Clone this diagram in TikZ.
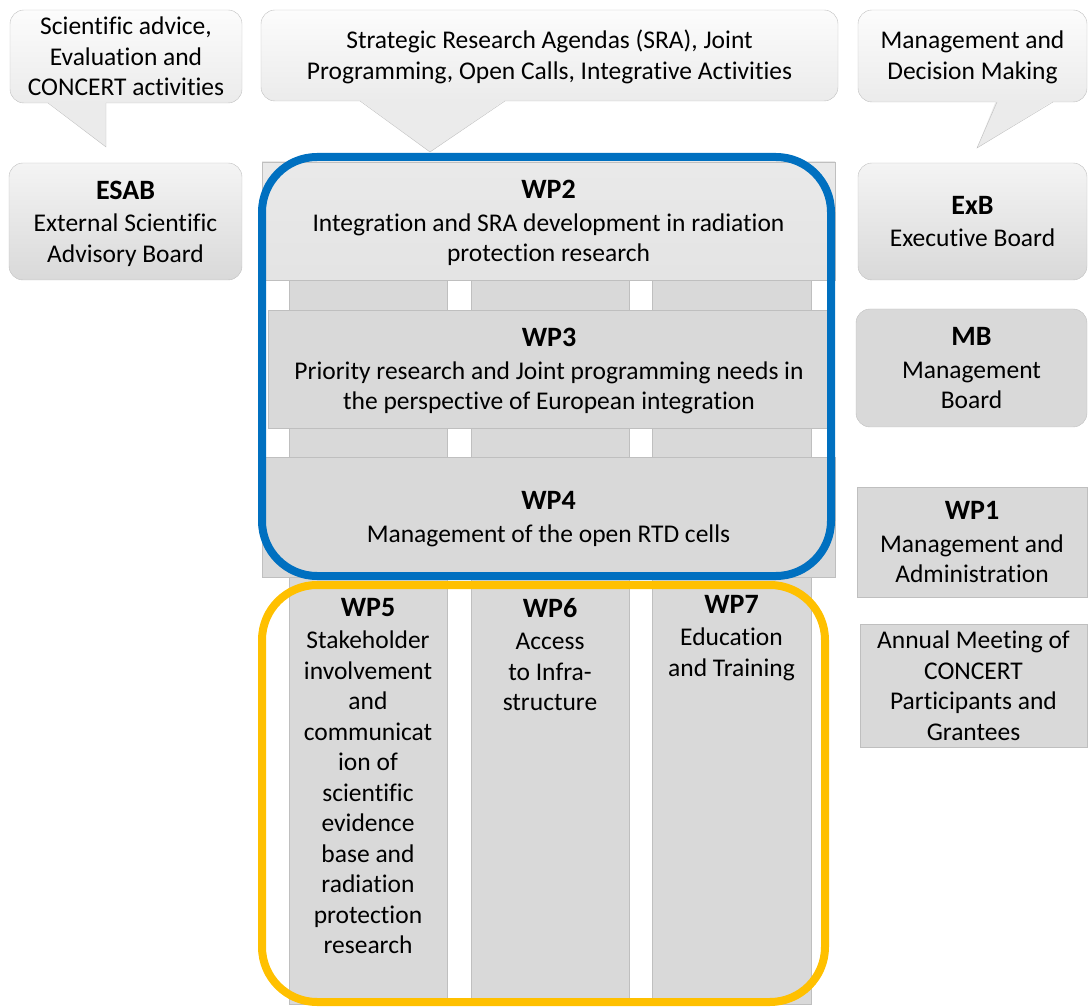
\documentclass[tikz,border=0pt]{standalone}
\usepackage{fontspec}
\setmainfont[Ligatures=NoCommon]{Carlito}
\usetikzlibrary{positioning}
\definecolor{wpblue}{HTML}{0070C0}
\definecolor{wpgold}{HTML}{FFC000}
\definecolor{boxgray}{HTML}{D9D9D9}
\definecolor{edgegray}{HTML}{BFBFBF}
\definecolor{paletop}{HTML}{F4F4F4}
\definecolor{bubtop}{HTML}{FCFCFC}
\definecolor{bubbot}{HTML}{EBEBEB}
\newcommand{\hd}[1]{{\fontsize{28}{30.5}\selectfont\bfseries #1}}
\tikzset{
  txt/.style={font=\fontsize{25.5}{30.5}\selectfont, align=center, inner sep=0pt},
  bubble/.style={txt, draw=edgegray, rounded corners=14pt, top color=bubtop, bottom color=bubbot},
  board/.style={txt, draw=edgegray, rounded corners=14pt, top color=paletop, bottom color=boxgray},
  flatbox/.style={txt, draw=edgegray, fill=boxgray},
  column/.style={draw=edgegray, fill=boxgray, minimum width=158pt, minimum height=724pt, inner sep=0pt},
  frame/.style={line width=8pt, rounded corners=55pt},
}
\begin{document}
\begin{tikzpicture}[x=1pt,y=-1pt]
    \useasboundingbox (0,0) rectangle (1088,1008);
    % callouts
    \node[bubble, minimum width=232pt, minimum height=93pt, text depth=-3pt] (advice) at (126,56.5)
        {Scientific advice,\\Evaluation and\\CONCERT activities};
    \fill[bubbot] (47,101.5) -- (106,147) -- (106,101.5) -- cycle;
    \draw[edgegray] (48,103) -- (106,147) -- (106,103);
    \node[bubble, minimum width=577pt, minimum height=91pt, text depth=2pt] (agenda) at (549.5,55.5)
        {Strategic Research Agendas (SRA), Joint\\Programming, Open Calls, Integrative Activities};
    \fill[bubbot] (359,99.5) -- (430,152) -- (506,99.5) -- cycle;
    \draw[edgegray] (360,101) -- (430,152) -- (505,101);
    \node[bubble, minimum width=229pt, minimum height=92pt, text depth=2pt] (decision) at (972.5,56)
        {Management and\\Decision Making};
    \fill[bubbot] (996,100.5) -- (977,148) -- (1054,100.5) -- cycle;
    \draw[edgegray] (997,102) -- (977,148) -- (1053,102);
    % boards
    \node[board, minimum width=233pt, minimum height=117pt, text depth=-4pt] (esab) at (125.5,221.5)
        {\hd{ESAB}\\[2pt]External Scientific\\Advisory Board};
    \node[board, minimum width=229pt, minimum height=117pt, text depth=-4pt] (exb) at (972.5,221.5)
        {\hd{ExB}\\[2pt]Executive Board};
    \node[board, top color=boxgray, minimum width=231pt, minimum height=118pt, text depth=-1pt] (mb) at (971.5,368)
        {\hd{MB}\\[2pt]Management\\Board};
    \node[flatbox, minimum width=230pt, minimum height=110pt, text depth=-2pt] (wp1) at (972,542)
        {\hd{WP1}\\[2pt]Management and\\Administration};
    \node[flatbox, minimum width=227pt, minimum height=123pt] (annual) at (973.5,685.5)
        {Annual Meeting of\\CONCERT\\Participants and\\Grantees};
    % columns
    \node[column] (col5) at (368,642) {};
    \node[column] (col6) at (550,642) {};
    \node[column, minimum width=159pt] (col7) at (731.5,642) {};
    % rows
    \node[flatbox, top color=paletop!60!boxgray, bottom color=paletop!40!boxgray,
          minimum width=573pt, minimum height=118pt, text depth=-3pt] (wp2) at (548.5,221)
        {\hd{WP2}\\[2pt]Integration and SRA development in radiation\\protection research};
    \node[flatbox, minimum width=562pt, minimum height=118pt, text depth=-4pt] (wp3) at (549,369)
        {\hd{WP3}\\[2pt]Priority research and Joint programming needs in\\the perspective of European integration};
    \node[flatbox, minimum width=573pt, minimum height=120pt, text depth=-4pt] (wp4) at (548.5,517)
        {\hd{WP4}\\[2pt]Management of the open RTD cells};
    % column texts
    \node[txt, anchor=north] (wp5) at (col5.north |- 0,598)
        {\hd{WP5}\\[2pt]Stakeholder\\involvement\\and\\communicat\\ion of\\scientific\\evidence\\base and\\radiation\\protection\\research};
    \node[txt, anchor=north] (wp6) at (col6.north |- 0,598)
        {\hd{WP6}\\[2pt]Access\\to Infra-\\structure};
    \node[txt, anchor=north] (wp7) at (col7.north |- 0,595)
        {\hd{WP7}\\[2pt]Education\\and Training};
    % frames
    \draw[frame, wpblue] (262,157) rectangle (831,576);
    \draw[frame, wpgold] (262,585) rectangle (825,1002);
\end{tikzpicture}
\end{document}
